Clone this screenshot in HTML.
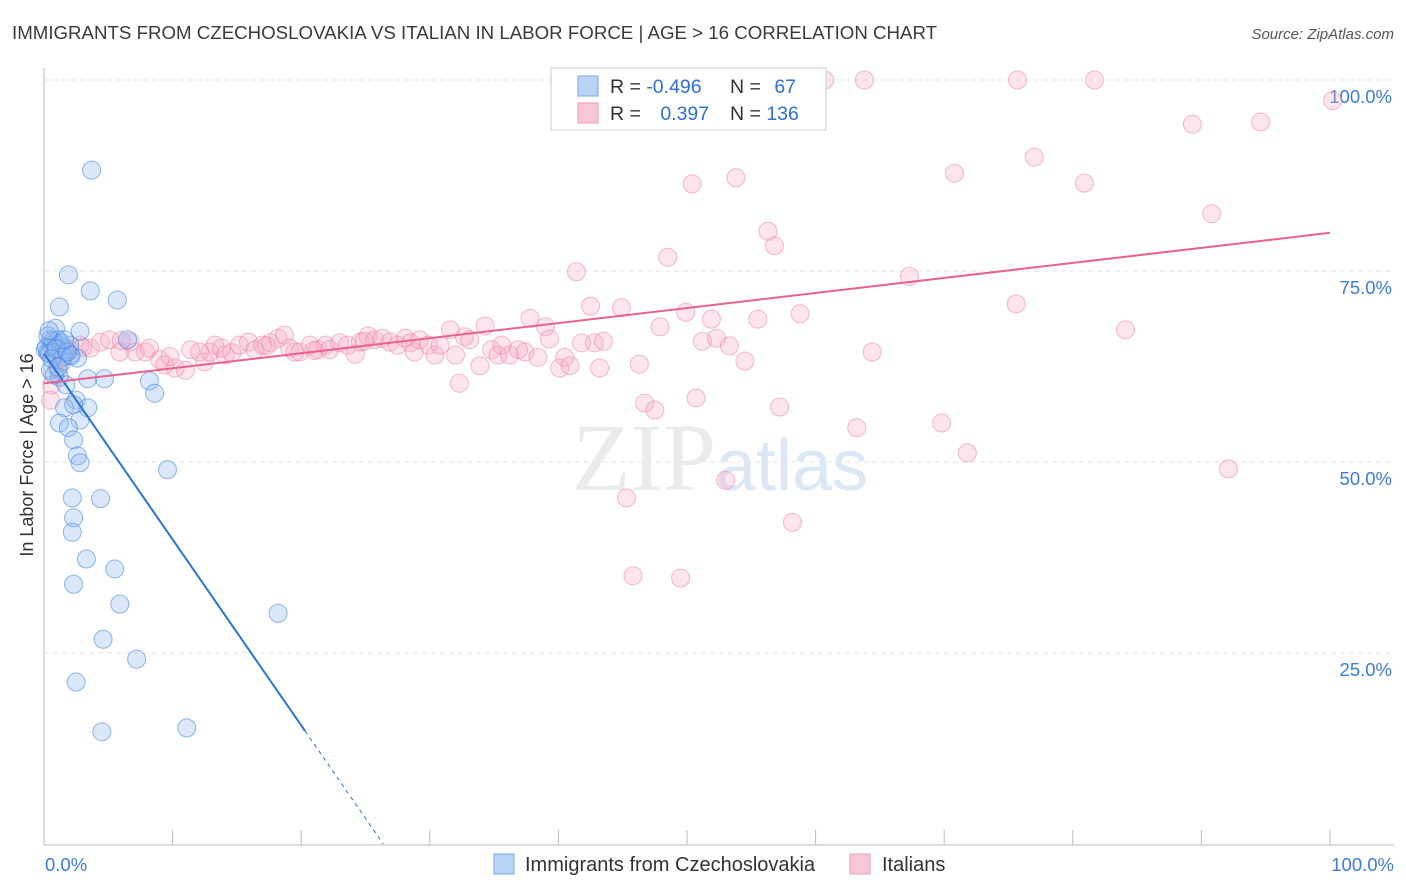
<!DOCTYPE html>
<html><head><meta charset="utf-8"><style>
body{margin:0;background:#fff;font-family:"Liberation Sans",sans-serif;}
svg{display:block}
</style></head><body>
<svg id="chart" width="1406" height="892" xmlns="http://www.w3.org/2000/svg" font-family="Liberation Sans, sans-serif">
<text x="12" y="39" font-size="18.7" fill="#3a3a3a">IMMIGRANTS FROM CZECHOSLOVAKIA VS ITALIAN IN LABOR FORCE | AGE &gt; 16 CORRELATION CHART</text>
<text x="1394" y="39" font-size="15" fill="#555" text-anchor="end" font-style="italic">Source: ZipAtlas.com</text>
<text transform="translate(33,455) rotate(-90)" font-size="18" fill="#333" text-anchor="middle">In Labor Force | Age &gt; 16</text>
<g id="grid"></g>
<text x="720" y="490" font-size="96" text-anchor="middle" fill="#ebebeb" font-family="Liberation Serif, serif">ZIP<tspan fill="#dbe7f5" font-family="Liberation Sans, sans-serif" font-size="72">atlas</tspan></text>
<g id="pts"></g>
<g id="lines"></g>
<g>
<rect x="551" y="68" width="275" height="62" fill="#fff" stroke="#ccc"/>
<rect x="578" y="76" width="20" height="20" fill="#b8d3f5" stroke="#7aa8e8"/>
<rect x="578" y="103" width="20" height="20" fill="#f9c6d6" stroke="#f09ab5"/>
<text x="610" y="93" font-size="19.5" fill="#333">R = <tspan fill="#2f6fd6">-0.496</tspan></text>
<text x="730" y="93" font-size="19.5" fill="#333">N = <tspan fill="#2f6fd6" dx="8">67</tspan></text>
<text x="610" y="120" font-size="19.5" fill="#333">R = <tspan fill="#2f6fd6" dx="14">0.397</tspan></text>
<text x="730" y="120" font-size="19.5" fill="#333">N = <tspan fill="#2f6fd6">136</tspan></text>
</g>
<g>
<rect x="494" y="854" width="20" height="20" fill="#b8d3f5" stroke="#7aa8e8"/>
<text x="525" y="871" font-size="20" fill="#333">Immigrants from Czechoslovakia</text>
<rect x="850" y="854" width="20" height="20" fill="#f9c6d6" stroke="#f09ab5"/>
<text x="882" y="871" font-size="20" fill="#333">Italians</text>
</g>
</svg>
<script>
const yTicks=[25,50,75,100];
const xTickLabels=["0.0%","100.0%"];
const blueX=[3.7,1.9,3.6,5.7,1.2,0.9,2.8,6.5,0.5,1.2,0.1,0.9,2.0,2.6,1.4,0.5,3.4,4.7,8.2,1.2,1.7,8.6,2.5,1.6,3.4,2.3,1.2,2.8,1.9,2.3,2.6,2.8,9.6,2.2,4.4,2.3,2.2,3.3,5.5,2.3,5.9,18.2,4.6,7.2,2.5,4.5,11.1,0.6,0.3,1.1,1.7,0.8,2.0,0.2,0.4,0.7,1.0,1.5,0.3,1.3,0.6,0.9,2.1,1.8,0.4,1.1,1.6];
const blueY=[88.2,74.5,72.4,71.2,70.3,67.5,67.1,66.0,66.0,65.3,64.7,64.0,64.0,63.6,63.1,62.0,60.9,60.9,60.6,61.1,60.1,59.0,58.1,57.1,57.1,57.5,55.1,55.5,54.5,52.9,50.8,49.9,49.0,45.3,45.2,42.7,40.8,37.3,36.0,34.0,31.4,30.2,26.8,24.2,21.2,14.7,15.2,65.3,64.4,66.0,64.7,61.4,65.3,65.0,64.2,65.8,64.9,63.8,66.5,65.6,63.5,64.8,63.9,64.4,67.2,62.4,66.0];
const pinkX=[0.5,0.6,1.1,1.4,2.0,2.8,3.6,4.4,5.1,5.9,6.7,7.1,7.9,8.2,9.0,9.4,10.2,11.0,11.4,12.1,12.5,12.9,13.3,14.1,14.6,15.2,15.9,16.4,17.0,17.6,18.2,18.7,19.1,19.5,19.9,20.7,21.3,21.9,22.2,23.0,23.6,24.2,24.6,25.2,25.7,26.3,26.9,27.5,28.1,28.5,28.8,29.2,29.9,30.4,30.8,31.6,32.0,32.3,32.7,33.1,33.9,34.3,34.8,35.3,35.6,36.2,36.9,37.4,37.8,38.4,39.0,39.3,40.1,40.5,40.9,41.4,41.8,42.5,42.8,43.2,43.5,44.9,45.3,45.8,46.3,46.7,47.5,47.9,48.5,49.5,49.9,50.4,50.7,51.2,51.9,52.3,53.0,53.3,53.8,54.5,55.5,56.3,56.8,57.2,58.2,58.8,60.7,63.2,63.8,64.4,67.3,69.8,70.8,71.8,75.6,75.7,77.0,80.9,81.7,84.1,89.3,90.8,92.1,94.6,100.2,49.2,56.1,3.0,6.0,9.8,13.8,17.3,21.0,24.9];
const pinkY=[58.1,60.1,62.0,63.6,64.7,65.3,64.9,65.7,66.0,64.4,65.7,64.4,64.4,64.9,63.4,62.7,62.3,62.0,64.7,64.4,63.1,64.4,65.3,64.0,64.3,65.3,65.7,64.7,65.3,65.6,66.2,66.6,64.9,64.4,64.4,65.3,64.7,65.3,64.7,65.6,65.3,64.1,65.7,66.5,66.0,66.2,65.7,65.3,66.2,65.6,64.4,66.0,65.3,64.0,65.3,67.3,64.0,60.3,66.4,66.0,62.6,67.8,64.7,64.0,65.3,64.0,64.7,64.4,68.8,63.7,67.7,66.1,62.3,63.7,62.6,74.9,65.6,70.4,65.6,62.3,65.8,70.2,45.3,35.1,62.8,57.7,56.8,67.7,76.8,34.8,69.6,86.4,58.4,65.8,68.7,66.2,47.6,65.2,87.2,63.2,68.7,80.2,78.3,57.2,42.1,69.4,100,54.5,100,64.4,74.3,55.1,87.8,51.2,70.7,100,89.9,86.5,100,67.3,94.2,82.5,49.1,94.5,97.3,100,100,65.0,65.9,63.8,64.9,65.2,64.6,65.8];
const blueTrend=[0,64.2,20.3,14.8];
const pinkTrend=[0,60.3,100,80.0];
const X0=44,X1=1330,Y0=844,YSCALE=7.64;
const xs=v=>X0+v*(X1-X0)/100, ys=v=>Y0-v*YSCALE;
const NS="http://www.w3.org/2000/svg";
function mk(t,a,p){const e=document.createElementNS(NS,t);for(const k in a)e.setAttribute(k,a[k]);p.appendChild(e);return e;}
const grid=document.getElementById('grid');
mk('line',{x1:44,y1:68,x2:44,y2:845,stroke:'#bbb'},grid);
mk('line',{x1:44,y1:845,x2:1394,y2:845,stroke:'#bbb'},grid);
yTicks.forEach(t=>{
  const g=mk('line',{x1:44,y1:ys(t),x2:1394,y2:ys(t),stroke:'#e3e3e3','stroke-dasharray':'5,4'},grid);
  
  
  const l=mk('text',{x:1392,y:ys(t)+23,'font-size':18.5,fill:'#3d7bd9','text-anchor':'end'},grid);
  l.textContent=t.toFixed(1)+'%';
  
  
});
for(let i=1;i<=10;i++){
  const x=xs(i*10);
  mk('line',{x1:x,y1:830,x2:x,y2:845,stroke:'#bbb'},grid);
}
const xl0=mk('text',{x:45,y:871,'font-size':18.5,fill:'#3d7bd9'},grid);xl0.textContent=xTickLabels[0];


const xl1=mk('text',{x:1394,y:871,'font-size':18.5,fill:'#3d7bd9','text-anchor':'end'},grid);xl1.textContent=xTickLabels[1];


const pts=document.getElementById('pts');
pinkX.forEach((v,i)=>{
  const c=mk('circle',{cx:xs(v),cy:ys(pinkY[i]),r:9,fill:'rgba(246,170,195,0.3)',stroke:'rgba(236,130,165,0.55)','stroke-width':1},pts);
  
  
});
blueX.forEach((v,i)=>{
  const c=mk('circle',{cx:xs(v),cy:ys(blueY[i]),r:9,fill:'rgba(140,185,240,0.32)',stroke:'rgba(60,125,220,0.55)','stroke-width':1},pts);
  
  
});
const lines=document.getElementById('lines');
const slope=(blueTrend[3]-blueTrend[1])/(blueTrend[2]-blueTrend[0]);
const bl=mk('line',{x1:xs(blueTrend[0]),y1:ys(blueTrend[1]),x2:xs(blueTrend[2]),y2:ys(blueTrend[3]),stroke:'#2b72d9','stroke-width':2},lines);


const xEnd=blueTrend[0]-blueTrend[1]/slope;
const bd=mk('line',{x1:xs(blueTrend[2]),y1:ys(blueTrend[3]),x2:xs(xEnd),y2:ys(0),stroke:'#2b72d9','stroke-width':1,'stroke-dasharray':'4,4'},lines);


const pl=mk('line',{x1:xs(pinkTrend[0]),y1:ys(pinkTrend[1]),x2:xs(pinkTrend[2]),y2:ys(pinkTrend[3]),stroke:'#e8628f','stroke-width':2},lines);


</script>
</body></html>
